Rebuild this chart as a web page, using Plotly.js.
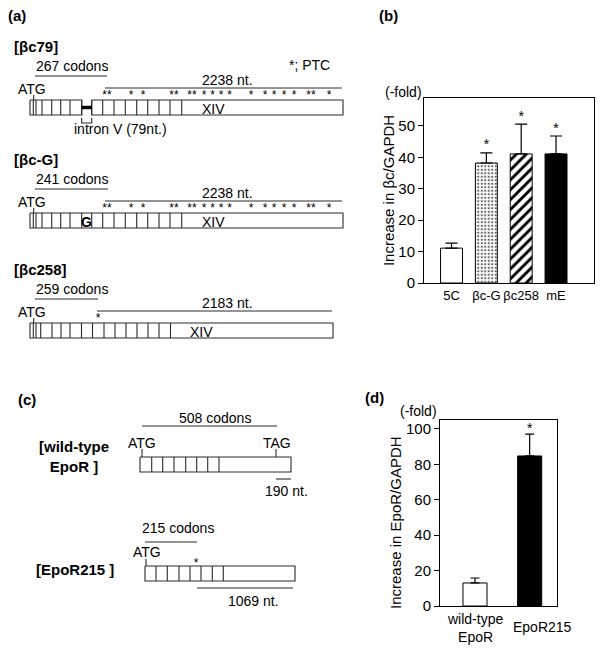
<!DOCTYPE html>
<html>
<head>
<meta charset="utf-8">
<script src="https://cdn.plot.ly/plotly-3.0.1.min.js"></script>
<style>
  html, body { margin: 0; padding: 0; background: #fff; }
  #fig { width: 600px; height: 649px; }
</style>
</head>
<body>
<div id="fig"></div>
<script>
// ---- (b) beta-c mRNA, fold increase over GAPDH
const bcLabels = ['5C', 'βc-G', 'βc258', 'mE'];
const bcMean   = [11.1, 38.2, 41.1, 41.1];
const bcErr    = [1.6, 3.2, 9.5, 5.7];
const bcSig    = [false, true, true, true];

// ---- (d) EpoR mRNA, fold increase over GAPDH
const eporLabels = ['wild-type<br>EpoR', 'EpoR215'];
const eporMean   = [13.0, 84.7];
const eporErr    = [2.8, 12.3];
const eporSig    = [false, true];

// ---- (a) beta-c gene maps (schematic, canvas px units)
const mapNames   = ['[βc79]', '[βc-G]', '[βc258]'];
const mapCodons  = ['267 codons', '241 codons', '259 codons'];
const mapNt      = ['2238 nt.', '2238 nt.', '2183 nt.'];
const mapCodonTo = [107, 108, 98];
const mapNtFrom  = [105, 105, 97];
const mapEnd     = [343, 343, 333];
const mapXiv     = [213, 213, 201];
const mapEdges = [
  [33.3, 36, 42, 51.7, 60.7, 70, 81.7, 91.7, 102.7, 114, 125.3, 136.7, 147.7, 159, 170, 181.7],
  [33.3, 36, 42, 51.7, 60.7, 70, 81.7, 91.7, 102.7, 114, 125.3, 136.7, 147.7, 159, 170, 181.7],
  [33.3, 36, 40.7, 52, 61, 70, 81.5, 92.5, 104, 115, 126, 137, 148, 159, 170.5]
];
// PTC marks: position and how many stars sit there
const ptcAt = [
  [107, 131, 143, 174, 192, 204, 212.5, 221, 229.5, 251, 265, 274, 284, 294, 311, 329],
  [107, 131, 143, 174, 192, 204, 212.5, 221, 229.5, 251, 265, 274, 284, 294, 311, 329],
  [98]
];
const ptcN = [
  [2, 1, 1, 2, 2, 1, 1, 1, 1, 1, 1, 1, 1, 1, 2, 1],
  [2, 1, 1, 2, 2, 1, 1, 1, 1, 1, 1, 1, 1, 1, 2, 1],
  [1]
];

// ---- (c) EpoR gene maps
const eporNames  = ['[wild-type<br>EpoR ]', '[EpoR215 ]'];
const eporCodons = ['508 codons', '215 codons'];
const eporTail   = ['190 nt.', '1069 nt.'];
const eporStart  = [140, 145];
const eporEnd    = [291, 295];
const eporEdges  = [
  [151.7, 162.7, 174, 185.7, 196.7, 207.7, 219],
  [156, 167.3, 179, 190, 201, 212.3, 223.3]
];

const FONT = 'Arial, "Liberation Sans", Helvetica, sans-serif';
const INK  = '#2a2a2a';
const rowTop  = [100, 213, 323];   // top edge of each beta-c box
const eporTop = [457, 566];

const traces = [];
const notes  = [];

function seg(xs, ys, width, color) {
  traces.push({
    x: xs, y: ys, xaxis: 'x3', yaxis: 'y3', mode: 'lines',
    line: { color: color || INK, width: width || 1.1 },
    hoverinfo: 'skip', showlegend: false
  });
}
function txt(x, y, text, opts) {
  notes.push(Object.assign({
    xref: 'x3', yref: 'y3', x: x, y: y, text: text, showarrow: false,
    xanchor: 'left', yanchor: 'middle',
    font: { family: FONT, size: 14, color: '#000' }
  }, opts || {}));
}
function stars(xs, ys, labels, xa, ya, size, pos) {
  traces.push({
    x: xs, y: ys, text: labels,
    xaxis: xa || 'x3', yaxis: ya || 'y3', mode: 'text', textposition: pos || 'middle center',
    textfont: { family: FONT, size: size || 12, color: '#000' },
    hoverinfo: 'skip', showlegend: false
  });
}
// box with internal exon boundaries, a gap splits it into two boxes
function geneBox(x0, x1, top, edges, gap) {
  const bot = top + 15;
  const parts = gap ? [[x0, gap[0]], [gap[1], x1]] : [[x0, x1]];
  const xs = [], ys = [];
  parts.forEach(p => {
    xs.push(p[0], p[1], p[1], p[0], p[0], null);
    ys.push(top, top, bot, bot, top, null);
  });
  edges.forEach(e => { xs.push(e, e, null); ys.push(top, bot, null); });
  seg(xs, ys);
}

// ---------- panel (a)
mapNames.forEach((nm, i) => {
  const T = rowTop[i];
  txt(12, T - 54, '<b>' + nm + '</b>', { font: { family: FONT, size: 15, color: '#000' } });
  txt(34, T - 34, mapCodons[i]);
  seg([35, mapCodonTo[i]], [T - 24, T - 24]);
  txt(227.5, T - 20, mapNt[i], { xanchor: 'center' });
  seg([mapNtFrom[i], mapEnd[i] - 1], [T - 12, T - 12]);
  txt(16, T - 11, 'ATG');
  seg([33.7, 33.7], [T - 5, T]);
  txt(mapXiv[i], T + 9, 'XIV', { xanchor: 'center' });

  const gap = i === 0 ? [81.7, 91.7] : null;
  geneBox(30, mapEnd[i], T, mapEdges[i], gap);
  stars(ptcAt[i], ptcAt[i].map(() => T - 4), ptcN[i].map(n => '*'.repeat(n)));
});
// intron V retained in beta-c79
seg([81.7, 91.7], [107.5, 107.5], 3.5, '#000');
seg([81.7, 81.7, 91.7, 91.7], [118, 123, 123, 118]);
txt(72, 129, 'intron V (79nt.)');
txt(86.7, 222, '<b>G</b>', { xanchor: 'center', font: { family: FONT, size: 14, color: '#000' } });
txt(287, 65, '*; PTC');

// ---------- panel (c)
eporNames.forEach((nm, i) => {
  geneBox(eporStart[i], eporEnd[i], eporTop[i], eporEdges[i]);
});
txt(74, 456, '<b>' + eporNames[0] + '</b>', { xanchor: 'center', font: { family: FONT, size: 15, color: '#000' } });
txt(75, 569, '<b>' + eporNames[1] + '</b>', { xanchor: 'center', font: { family: FONT, size: 15, color: '#000' } });
txt(214.5, 418, eporCodons[0], { xanchor: 'center' });
seg([142, 277], [426, 426]);
txt(126, 443, 'ATG');
seg([142, 142], [449, 457]);
txt(261, 443, 'TAG');
seg([276, 276], [449, 457]);
seg([276, 291], [479, 479]);
txt(286, 491, eporTail[0], { xanchor: 'center' });

txt(177.5, 528, eporCodons[1], { xanchor: 'center' });
seg([145, 197], [542, 542]);
txt(131, 552, 'ATG');
seg([146, 146], [559, 566]);
stars([196], [564], ['*']);
seg([197, 293], [588, 588]);
txt(253, 601, eporTail[1], { xanchor: 'center' });

// panel letters
[['(a)', 6, 15], ['(b)', 377, 15], ['(c)', 16, 399], ['(d)', 363, 397]].forEach(p => {
  txt(p[1], p[2], '<b>' + p[0] + '</b>', { font: { family: FONT, size: 15, color: '#000' } });
});
txt(403, 92, '(-fold)', { xanchor: 'center' });
txt(418, 411, '(-fold)', { xanchor: 'center' });
// y title of (d) sits lower than the axis centre in the original
txt(395, 523, 'Increase in EpoR/GAPDH', { xanchor: 'center', textangle: -90,
    font: { family: FONT, size: 15, color: '#000' } });

// ---------- panel (b) bars, one trace each so every fill can differ
const bcFill    = ['#fff', '#f2f2f2', '#fff', '#000'];
const bcShape   = ['', '.', '/', ''];
const bcPattern = ['#000', '#666', '#000', '#000'];
bcLabels.forEach((lab, i) => {
  traces.push({
    type: 'bar', x: [lab], y: [bcMean[i]], xaxis: 'x', yaxis: 'y', width: 0.63,
    marker: {
      color: bcFill[i],
      line: { color: '#000', width: 1 },
      pattern: { shape: bcShape[i], fgcolor: bcPattern[i], fillmode: 'replace',
                 size: bcShape[i] === '.' ? 3.5 : 7, solidity: bcShape[i] === '.' ? 0.35 : 0.42 }
    },
    error_y: { type: 'data', symmetric: false, array: [bcErr[i]], arrayminus: [0],
               color: '#000', thickness: 1.2, width: 6 },
    hoverinfo: 'skip', showlegend: false
  });
});
// significance stars just above the error bars
const bcSigIdx = bcLabels.map((l, i) => i).filter(i => bcSig[i]);
stars(bcSigIdx.map(i => bcLabels[i]), bcSigIdx.map(i => bcMean[i] + bcErr[i]),
      bcSigIdx.map(() => '*'), 'x', 'y', 14, 'top center');

// ---------- panel (d) bars
traces.push({
  type: 'bar', x: [0, 1], y: eporMean, xaxis: 'x2', yaxis: 'y2', width: 0.44,
  marker: { color: ['#fff', '#000'], line: { color: '#000', width: 1 } },
  error_y: { type: 'data', symmetric: false, array: eporErr, arrayminus: eporErr.map(() => 0),
             color: '#000', thickness: 1.2, width: 4.5 },
  hoverinfo: 'skip', showlegend: false
});
eporSig.forEach((s, i) => {
  if (!s) return;
  notes.push({ xref: 'x2', yref: 'y2', x: i, y: eporMean[i] + eporErr[i], text: '*', showarrow: false,
               yanchor: 'bottom', yshift: -4, font: { family: FONT, size: 14, color: '#000' } });
});
// category labels of (d) sit a little off the bar centres
notes.push({ xref: 'x2', yref: 'y3', x: 0, y: 628, text: eporLabels[0], showarrow: false,
             yanchor: 'middle', font: { family: FONT, size: 14, color: '#000' } });
notes.push({ xref: 'x2', yref: 'y3', x: 1, y: 627, xshift: 13, text: eporLabels[1], showarrow: false,
             yanchor: 'middle', font: { family: FONT, size: 14, color: '#000' } });

const W = 600, H = 649;
const axisStyle = {
  showline: true, mirror: true, linecolor: '#000', linewidth: 1,
  showgrid: false, zeroline: false, fixedrange: true
};

const layout = {
  width: W, height: H,
  margin: { l: 0, r: 0, t: 0, b: 0 },
  paper_bgcolor: '#fff', plot_bgcolor: 'rgba(0,0,0,0)',
  font: { family: FONT, size: 14, color: '#000' },
  showlegend: false,
  barmode: 'overlay',
  xaxis: Object.assign({}, axisStyle, {
    domain: [424 / W, 594 / W], anchor: 'y', type: 'category',
    range: [-0.79, 4.09], ticks: '', tickangle: 0, tickfont: { size: 13 }
  }),
  yaxis: Object.assign({}, axisStyle, {
    domain: [1 - 283 / H, 1 - 98 / H], anchor: 'x',
    range: [0, 58.9], dtick: 10, ticks: 'outside', ticklen: 5, tickcolor: '#000',
    tickfont: { size: 15 },
    title: { text: 'Increase in βc/GAPDH', font: { size: 15 }, standoff: 0 }
  }),
  xaxis2: Object.assign({}, axisStyle, {
    domain: [440 / W, 557 / W], anchor: 'y2',
    range: [-0.64, 1.5], ticks: '', showticklabels: false
  }),
  yaxis2: Object.assign({}, axisStyle, {
    domain: [1 - 606 / H, 1 - 420 / H], anchor: 'x2',
    range: [0, 105], dtick: 20, ticks: 'outside', ticklen: 5, tickcolor: '#000',
    tickfont: { size: 15 }
  }),
  // drawing canvas for the gene maps, one unit = one pixel
  xaxis3: { domain: [0, 1], range: [0, W], anchor: 'y3', visible: false, fixedrange: true },
  yaxis3: { domain: [0, 1], range: [H, 0], anchor: 'x3', visible: false, fixedrange: true },
  annotations: notes
};

Plotly.newPlot('fig', traces, layout, { staticPlot: true, displayModeBar: false });
</script>
</body>
</html>
